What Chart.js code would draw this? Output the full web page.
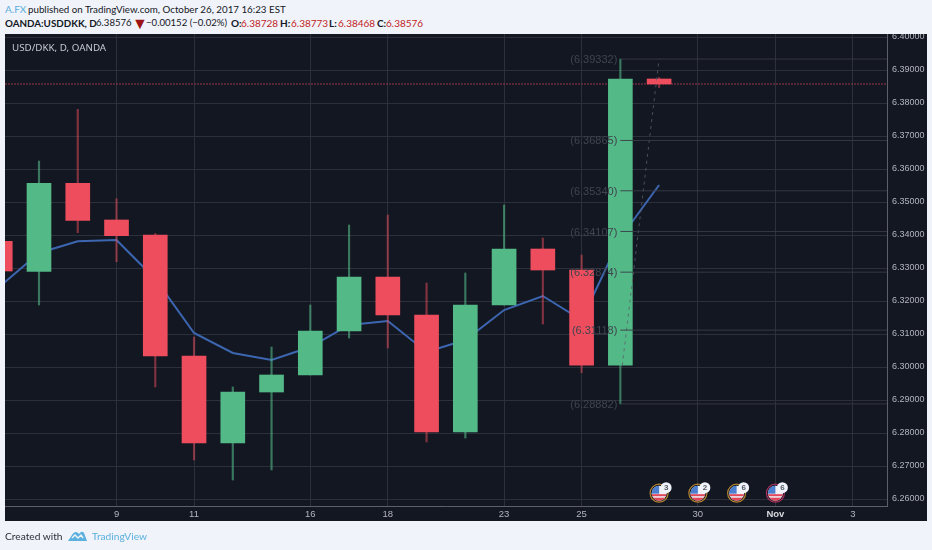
<!DOCTYPE html>
<html>
<head>
<meta charset="utf-8">
<title>USD/DKK</title>
<script src="https://cdn.jsdelivr.net/npm/chart.js@4"></script>
<style>
  html, body { margin: 0; padding: 0; width: 932px; height: 550px; overflow: hidden; background: #f0f3fa; }
  body { position: relative; font-family: Lato, sans-serif; color: #131722; }
  #pane { position: absolute; left: 5px; top: 34px; width: 922px; height: 487px; background: #131722; }
  #chart { position: absolute; left: 0; top: 0; }
  /* sits over the canvas so the top price label is cut off at the pane edge */
  #head { position: absolute; left: 0; top: 0; width: 932px; height: 34px; background: #f0f3fa; z-index: 2; font-size: 10px; }
  #head span, #foot span { position: absolute; white-space: nowrap; line-height: 14px; }
  #title { position: absolute; left: 12px; top: 41px; color: #c5c8cf; font-family: "Noto Sans", sans-serif; font-size: 9.8px; line-height: 14px; z-index: 3; }
  .b { font-weight: bold; }
  .r { color: #c21c1c; }
  #foot { position: absolute; left: 0; top: 521px; width: 932px; height: 29px; font-size: 10.2px; }
  #logo { position: absolute; left: 68px; top: 9px; }
</style>
</head>
<body>
<div id="head">
  <span style="left:5px;top:2px;color:#5aaee0">A.FX</span>
  <span style="left:28px;top:2px;font-size:9.75px">published on TradingView.com, October 26, 2017 16:23 EST</span>
  <span class="b" style="left:5px;top:16px;font-size:9.8px">OANDA:USDDKK, D</span>
  <span style="left:96px;top:16px;font-size:9.6px">6.38576</span>
  <span style="left:132px;top:16px;font-size:16px;color:#9c1414">▼</span>
  <span style="left:146px;top:16px;font-size:9.6px">−0.00152 (−0.02%)</span>
  <span class="b" style="left:231px;top:16px">O:</span><span class="r" style="left:241px;top:16px">6.38728</span>
  <span class="b" style="left:280px;top:16px">H:</span><span class="r" style="left:291px;top:16px">6.38773</span>
  <span class="b" style="left:329px;top:16px">L:</span><span class="r" style="left:338px;top:16px">6.38468</span>
  <span class="b" style="left:377px;top:16px">C:</span><span class="r" style="left:386px;top:16px">6.38576</span>
</div>
<div id="pane"></div>
<canvas id="chart" width="932" height="550"></canvas>
<div id="title">USD/DKK, D, OANDA</div>
<div id="foot">
  <span style="left:5px;top:8px;color:#2a2e39">Created with</span>
  <svg id="logo" width="19" height="12" viewBox="0 0 19 12">
    <path d="M0 11 L5 3.5 Q7 1 9.5 2.5 L11 4 Q14 0 16 3 L19 11 Z" fill="#5ab0de"/>
    <path d="M4 8 L7 5 L10 8 L13 5 L15 8" fill="none" stroke="#f0f3fa" stroke-width="1.4"/>
  </svg>
  <span style="left:92px;top:8px;color:#5ab0de">TradingView</span>
</div>

<script>
// one entry per trading day, x is the bar index
const days = [0, 1, 2, 3, 4, 5, 6, 7, 8, 9, 10, 11, 12, 13, 14, 15, 16, 17];
const opens = [6.33809, 6.32900, 6.35567, 6.34455, 6.34000, 6.30333, 6.27697, 6.29242, 6.29758, 6.31091, 6.32727, 6.31576, 6.28030, 6.31879, 6.33576, 6.32939, 6.30052, 6.38728];
const highs = [6.33809, 6.36242, 6.37809, 6.35100, 6.34045, 6.30909, 6.29394, 6.30606, 6.31879, 6.34303, 6.34606, 6.32545, 6.32848, 6.34909, 6.33909, 6.33394, 6.39332, 6.38773];
const lows = [6.32909, 6.31879, 6.34070, 6.33191, 6.29394, 6.27182, 6.26576, 6.26879, 6.29758, 6.30879, 6.30576, 6.27727, 6.27848, 6.31879, 6.31303, 6.29827, 6.28882, 6.38468];
const closes = [6.32909, 6.35567, 6.34445, 6.33979, 6.30333, 6.27697, 6.29242, 6.29758, 6.31091, 6.32727, 6.31576, 6.28030, 6.31879, 6.33576, 6.32939, 6.30052, 6.38728, 6.38576];
const maValues = [6.32455, 6.33455, 6.33809, 6.33848, 6.32667, 6.31030, 6.30424, 6.30212, 6.30606, 6.31273, 6.31394, 6.30455, 6.30818, 6.31727, 6.32152, 6.31424, 6.33909, 6.35515];

// fib drawing
const fibLevels = [6.39332, 6.36865, 6.35340, 6.34107, 6.32874, 6.31118, 6.28882];
const fibStart = 16;
const fibTrendX = [16.05, 17];
const fibTrendY = [6.30052, 6.39332];

const lastPrice = 6.38576;

const xTickValues = [3, 5, 8, 10, 13, 15, 18, 20, 22];
const xTickLabels = ['9', '11', '16', '18', '23', '25', '30', 'Nov', '3'];
const yTickValues = [6.26, 6.27, 6.28, 6.29, 6.30, 6.31, 6.32, 6.33, 6.34, 6.35, 6.36, 6.37, 6.38, 6.39, 6.40];

// calendar events along the bottom
const eventDays = [17, 18, 19, 20];
const eventCounts = ['3', '2', '6', '6'];
const eventRings = ['#b5862f', '#b5862f', '#b5862f', '#a8305f'];
const eventLevel = 6.26176;

const xMin = 0.1226;
const xMax = 22.88;
const yMin = 6.25788;
const yMax = 6.40091;

const GREEN = '#53b987';
const RED = '#ee4d5d';
const isUp = days.map(i => closes[i] >= opens[i]);

const drawOverlays = {
  id: 'overlays',
  afterDatasetsDraw(chart) {
    const { ctx, scales: { x, y } } = chart;
    ctx.save();

    // fib price labels
    ctx.font = '11px "Liberation Sans", sans-serif';
    ctx.fillStyle = '#40444f';
    ctx.textAlign = 'right';
    ctx.textBaseline = 'middle';
    fibLevels.forEach(level => {
      ctx.fillText('(' + level.toFixed(5) + ')', x.getPixelForValue(fibStart) - 3, y.getPixelForValue(level) + 1);
    });

    // event flags
    eventDays.forEach((day, i) => {
      const cx = x.getPixelForValue(day);
      const cy = y.getPixelForValue(eventLevel);
      ctx.save();
      ctx.beginPath();
      ctx.arc(cx, cy, 7.5, 0, Math.PI * 2);
      ctx.clip();
      ctx.fillStyle = '#eef0f5';
      ctx.fillRect(cx - 8, cy - 8, 16, 16);
      ctx.fillStyle = '#e0475a';
      ctx.fillRect(cx - 8, cy + 1, 16, 2);
      ctx.fillRect(cx - 8, cy + 4.5, 16, 3.5);
      ctx.fillStyle = '#4c7fd0';
      ctx.fillRect(cx - 8, cy - 8, 8, 8.5);
      ctx.restore();

      ctx.beginPath();
      ctx.arc(cx, cy, 9, 0, Math.PI * 2);
      ctx.strokeStyle = eventRings[i];
      ctx.lineWidth = 1.2;
      ctx.stroke();

      ctx.beginPath();
      ctx.arc(cx + 7, cy - 5.5, 5.5, 0, Math.PI * 2);
      ctx.fillStyle = '#f0f3fa';
      ctx.fill();
      ctx.fillStyle = '#555a66';
      ctx.font = 'bold 8px "Liberation Sans", sans-serif';
      ctx.textAlign = 'center';
      ctx.fillText(eventCounts[i], cx + 7, cy - 5);
    });
    ctx.restore();
  },
};

new Chart(document.getElementById('chart').getContext('2d'), {
  data: {
    datasets: [
      {
        type: 'line',
        data: [{ x: xMin, y: lastPrice }, { x: xMax, y: lastPrice }],
        borderColor: '#9a3648',
        borderWidth: 1,
        borderDash: [2, 1],
        pointRadius: 0,
        order: 6,
      },
      {
        type: 'line',
        data: days.map(i => ({ x: i, y: maValues[i] })),
        borderColor: '#3d66b0',
        borderWidth: 2,
        pointRadius: 0,
        tension: 0,
        order: 5,
      },
      {
        type: 'bar',
        data: days.map(i => ({ x: i, y: [lows[i], highs[i]] })),
        backgroundColor: isUp.map(up => (up ? 'rgba(83,185,135,0.6)' : 'rgba(238,77,93,0.5)')),
        barThickness: 1.5,
        grouped: false,
        order: 4,
      },
      {
        type: 'bar',
        data: days.map(i => ({ x: i, y: [opens[i], closes[i]] })),
        backgroundColor: isUp.map(up => (up ? GREEN : RED)),
        barThickness: 24,
        grouped: false,
        order: 3,
      },
      ...fibLevels.map(level => ({
        type: 'line',
        data: [{ x: fibStart, y: level }, { x: xMax, y: level }],
        borderColor: 'rgba(56,60,71,0.9)',
        borderWidth: 1,
        pointRadius: 0,
        order: 1,
      })),
      {
        type: 'line',
        data: fibTrendX.map((v, i) => ({ x: v, y: fibTrendY[i] })),
        borderColor: 'rgba(90,94,106,0.8)',
        borderWidth: 1,
        borderDash: [3, 4],
        pointRadius: 0,
        order: 1,
      },
    ],
  },
  options: {
    responsive: false,
    animation: false,
    events: [],
    // canvas covers the whole page, padding puts the plot on the pane
    layout: { padding: { left: 5, top: 34, right: 5, bottom: 29 } },
    plugins: { legend: { display: false }, tooltip: { enabled: false } },
    scales: {
      x: {
        type: 'linear',
        offset: false,
        min: xMin,
        max: xMax,
        afterBuildTicks: s => { s.ticks = xTickValues.map(value => ({ value })); },
        afterFit: s => { s.height = 15; },
        grid: { color: '#2c303b', drawTicks: false, offset: false },
        border: { color: '#5d606b' },
        ticks: {
          padding: 3,
          maxRotation: 0,
          autoSkip: false,
          color: ctx => (ctx.tick && ctx.tick.value === 20 ? '#d8dae0' : '#b2b5be'),
          font: ctx => ({
            family: '"Liberation Sans", sans-serif',
            size: 9.5,
            weight: ctx.tick && ctx.tick.value === 20 ? 'bold' : 'normal',
          }),
          callback: v => xTickLabels[xTickValues.indexOf(v)],
        },
      },
      y: {
        position: 'right',
        min: yMin,
        max: yMax,
        afterBuildTicks: s => { s.ticks = yTickValues.map(value => ({ value })); },
        afterFit: s => { s.width = 40; },
        grid: { color: '#2c303b', drawTicks: false },
        border: { color: '#5d606b' },
        ticks: {
          padding: 5,
          color: '#b2b5be',
          font: { family: '"Liberation Sans", sans-serif', size: 9 },
          callback: v => v.toFixed(5),
        },
      },
    },
  },
  plugins: [drawOverlays],
});
</script>
</body>
</html>
